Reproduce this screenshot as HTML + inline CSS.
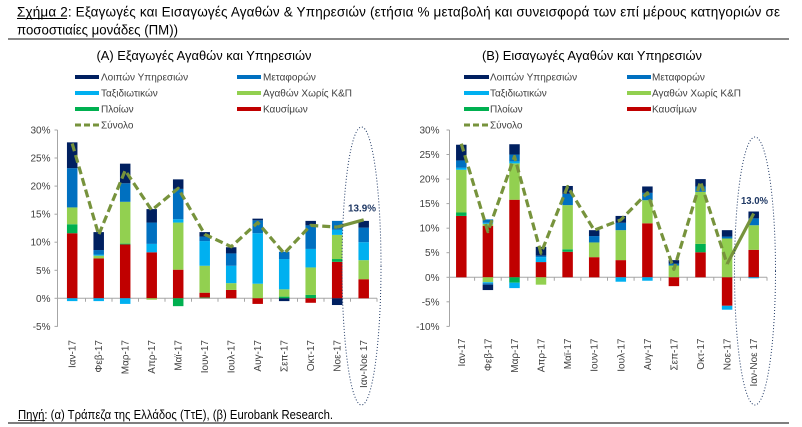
<!DOCTYPE html>
<html><head><meta charset="utf-8"><style>
html,body{margin:0;padding:0;background:#fff;}
svg{display:block;font-family:"Liberation Sans","Noto Sans CJK SC",sans-serif;}
</style></head><body>
<svg width="802" height="427" viewBox="0 0 802 427" xmlns="http://www.w3.org/2000/svg">
<!-- Title -->
<text x="17" y="16.5" font-size="13.5" fill="#000" textLength="763" lengthAdjust="spacing">Σχήμα 2: Εξαγωγές και Εισαγωγές Αγαθών &amp; Υπηρεσιών (ετήσια % μεταβολή και συνεισφορά των επί μέρους κατηγοριών σε</text>
<line x1="17" y1="18.5" x2="67" y2="18.5" stroke="#000" stroke-width="0.9"/>
<text x="17" y="34.5" font-size="13.5" fill="#000" textLength="161" lengthAdjust="spacingAndGlyphs">ποσοστιαίες μονάδες (ΠΜ))</text>
<line x1="8" y1="39" x2="789" y2="39" stroke="#404040" stroke-width="1.3"/>

<!-- Subtitles -->
<text x="204" y="60" font-size="13" text-anchor="middle" fill="#000" textLength="215" lengthAdjust="spacingAndGlyphs">(Α) Εξαγωγές Αγαθών και Υπηρεσιών</text>
<text x="592" y="60" font-size="13" text-anchor="middle" fill="#000" textLength="220" lengthAdjust="spacingAndGlyphs">(Β) Εισαγωγές Αγαθών και Υπηρεσιών</text>

<!-- Legend left -->
<g font-size="10" fill="#404040">
<rect x="75" y="75" width="24" height="4" fill="#002060"/><text x="101" y="80.5">Λοιπών Υπηρεσιών</text>
<rect x="237" y="75" width="24" height="4" fill="#0070c0"/><text x="263" y="80.5">Μεταφορών</text>
<rect x="75" y="91" width="24" height="4" fill="#00b0f0"/><text x="101" y="96.5">Ταξιδιωτικών</text>
<rect x="237" y="91" width="24" height="4" fill="#92d050"/><text x="263" y="96.5">Αγαθών Χωρίς Κ&amp;Π</text>
<rect x="75" y="107" width="24" height="4" fill="#00b050"/><text x="101" y="112.5">Πλοίων</text>
<rect x="237" y="107" width="24" height="4" fill="#c00000"/><text x="263" y="112.5">Καυσίμων</text>
<line x1="75" y1="125" x2="99" y2="125" stroke="#77933c" stroke-width="3" stroke-dasharray="6 3"/><text x="101" y="128.5">Σύνολο</text>
</g>
<!-- Legend right -->
<g font-size="10" fill="#404040">
<rect x="464" y="75" width="25" height="4" fill="#002060"/><text x="490" y="80.5">Λοιπών Υπηρεσιών</text>
<rect x="627" y="75" width="24" height="4" fill="#0070c0"/><text x="652" y="80.5">Μεταφορών</text>
<rect x="464" y="91" width="25" height="4" fill="#00b0f0"/><text x="490" y="96.5">Ταξιδιωτικών</text>
<rect x="627" y="91" width="24" height="4" fill="#92d050"/><text x="652" y="96.5">Αγαθών Χωρίς Κ&amp;Π</text>
<rect x="464" y="107" width="25" height="4" fill="#00b050"/><text x="490" y="112.5">Πλοίων</text>
<rect x="627" y="107" width="24" height="4" fill="#c00000"/><text x="652" y="112.5">Καυσίμων</text>
<line x1="464" y1="125" x2="489" y2="125" stroke="#77933c" stroke-width="3" stroke-dasharray="6 3"/><text x="490" y="128.5">Σύνολο</text>
</g>

<!-- LEFT CHART axes -->
<g stroke="#a6a6a6" stroke-width="1" fill="none">
<line x1="57.5" y1="130" x2="57.5" y2="326.7"/>
<line x1="54.5" y1="130" x2="57.5" y2="130"/>
<line x1="54.5" y1="158" x2="57.5" y2="158"/>
<line x1="54.5" y1="186.1" x2="57.5" y2="186.1"/>
<line x1="54.5" y1="214.2" x2="57.5" y2="214.2"/>
<line x1="54.5" y1="242.2" x2="57.5" y2="242.2"/>
<line x1="54.5" y1="270.3" x2="57.5" y2="270.3"/>
<line x1="54.5" y1="298.3" x2="57.5" y2="298.3"/>
<line x1="54.5" y1="326.4" x2="57.5" y2="326.4"/>
<line x1="57.5" y1="298.3" x2="377" y2="298.3"/>
<path d="M85.5 298.3v3.5M112 298.3v3.5M138.5 298.3v3.5M165 298.3v3.5M191.5 298.3v3.5M218 298.3v3.5M244.5 298.3v3.5M271 298.3v3.5M297.5 298.3v3.5M324 298.3v3.5M350.5 298.3v3.5M377 298.3v3.5"/>
</g>
<g font-size="10" fill="#404040" text-anchor="end">
<text x="50.5" y="133.5">30%</text>
<text x="50.5" y="161.5">25%</text>
<text x="50.5" y="189.6">20%</text>
<text x="50.5" y="217.7">15%</text>
<text x="50.5" y="245.7">10%</text>
<text x="50.5" y="273.8">5%</text>
<text x="50.5" y="301.8">0%</text>
<text x="50.5" y="329.9">-5%</text>
</g>

<!-- LEFT bars (value units) -->
<g transform="translate(0,298.3) scale(1,-5.61)">
<!-- 1 -->
<rect x="66.95" y="0" width="10.5" height="11.6" fill="#c00000"/>
<rect x="66.95" y="11.6" width="10.5" height="1.6" fill="#00b050"/>
<rect x="66.95" y="13.2" width="10.5" height="3.0" fill="#92d050"/>
<rect x="66.95" y="16.2" width="10.5" height="7.0" fill="#0070c0"/>
<rect x="66.95" y="23.2" width="10.5" height="4.6" fill="#002060"/>
<rect x="66.95" y="-0.5" width="10.5" height="0.5" fill="#00b0f0"/>
<!-- 2 -->
<rect x="93.45" y="0" width="10.5" height="7.1" fill="#c00000"/>
<rect x="93.45" y="7.1" width="10.5" height="0.5" fill="#92d050"/>
<rect x="93.45" y="7.6" width="10.5" height="0.2" fill="#00b0f0"/>
<rect x="93.45" y="7.8" width="10.5" height="0.8" fill="#0070c0"/>
<rect x="93.45" y="8.6" width="10.5" height="3.2" fill="#002060"/>
<rect x="93.45" y="-0.5" width="10.5" height="0.5" fill="#00b0f0"/>
<!-- 3 -->
<rect x="119.95" y="0" width="10.5" height="9.6" fill="#c00000"/>
<rect x="119.95" y="9.6" width="10.5" height="0.15" fill="#00b050"/>
<rect x="119.95" y="9.75" width="10.5" height="7.45" fill="#92d050"/>
<rect x="119.95" y="17.2" width="10.5" height="3.3" fill="#0070c0"/>
<rect x="119.95" y="20.5" width="10.5" height="3.5" fill="#002060"/>
<rect x="119.95" y="-1.0" width="10.5" height="1.0" fill="#00b0f0"/>
<!-- 4 -->
<rect x="146.45" y="0" width="10.5" height="8.2" fill="#c00000"/>
<rect x="146.45" y="8.2" width="10.5" height="1.5" fill="#00b0f0"/>
<rect x="146.45" y="9.7" width="10.5" height="3.8" fill="#0070c0"/>
<rect x="146.45" y="13.5" width="10.5" height="2.4" fill="#002060"/>
<rect x="146.45" y="-0.25" width="10.5" height="0.25" fill="#92d050"/>
<!-- 5 -->
<rect x="172.95" y="0" width="10.5" height="5.1" fill="#c00000"/>
<rect x="172.95" y="5.1" width="10.5" height="8.4" fill="#92d050"/>
<rect x="172.95" y="13.5" width="10.5" height="0.6" fill="#00b0f0"/>
<rect x="172.95" y="14.1" width="10.5" height="5.4" fill="#0070c0"/>
<rect x="172.95" y="19.5" width="10.5" height="1.7" fill="#002060"/>
<rect x="172.95" y="-1.4" width="10.5" height="1.4" fill="#00b050"/>
<!-- 6 -->
<rect x="199.45" y="0" width="10.5" height="0.2" fill="#4f6228"/>
<rect x="199.45" y="0.2" width="10.5" height="0.8" fill="#c00000"/>
<rect x="199.45" y="1.0" width="10.5" height="4.8" fill="#92d050"/>
<rect x="199.45" y="5.8" width="10.5" height="4.4" fill="#00b0f0"/>
<rect x="199.45" y="10.2" width="10.5" height="0.8" fill="#0070c0"/>
<rect x="199.45" y="11.0" width="10.5" height="0.8" fill="#002060"/>
<!-- 7 -->
<rect x="225.95" y="0" width="10.5" height="1.5" fill="#c00000"/>
<rect x="225.95" y="1.5" width="10.5" height="1.2" fill="#92d050"/>
<rect x="225.95" y="2.7" width="10.5" height="3.1" fill="#00b0f0"/>
<rect x="225.95" y="5.8" width="10.5" height="2.2" fill="#0070c0"/>
<rect x="225.95" y="8.0" width="10.5" height="1.1" fill="#002060"/>
<!-- 8 -->
<rect x="252.45" y="0" width="10.5" height="2.6" fill="#92d050"/>
<rect x="252.45" y="2.6" width="10.5" height="9.0" fill="#00b0f0"/>
<rect x="252.45" y="11.6" width="10.5" height="2.3" fill="#0070c0"/>
<rect x="252.45" y="13.9" width="10.5" height="0.3" fill="#002060"/>
<rect x="252.45" y="-1.0" width="10.5" height="1.0" fill="#c00000"/>
<!-- 9 -->
<rect x="278.95" y="0" width="10.5" height="0.3" fill="#00b050"/>
<rect x="278.95" y="0.3" width="10.5" height="1.3" fill="#92d050"/>
<rect x="278.95" y="1.6" width="10.5" height="5.4" fill="#00b0f0"/>
<rect x="278.95" y="7.0" width="10.5" height="1.3" fill="#0070c0"/>
<rect x="278.95" y="-0.5" width="10.5" height="0.5" fill="#002060"/>
<!-- 10 -->
<rect x="305.45" y="0" width="10.5" height="0.6" fill="#00b050"/>
<rect x="305.45" y="0.6" width="10.5" height="4.9" fill="#92d050"/>
<rect x="305.45" y="5.5" width="10.5" height="3.3" fill="#00b0f0"/>
<rect x="305.45" y="8.8" width="10.5" height="4.2" fill="#0070c0"/>
<rect x="305.45" y="13.0" width="10.5" height="0.8" fill="#002060"/>
<rect x="305.45" y="-0.8" width="10.5" height="0.8" fill="#c00000"/>
<!-- 11 -->
<rect x="331.95" y="0" width="10.5" height="6.5" fill="#c00000"/>
<rect x="331.95" y="6.5" width="10.5" height="0.5" fill="#00b050"/>
<rect x="331.95" y="7.0" width="10.5" height="4.3" fill="#92d050"/>
<rect x="331.95" y="11.3" width="10.5" height="0.9" fill="#00b0f0"/>
<rect x="331.95" y="12.2" width="10.5" height="1.6" fill="#0070c0"/>
<rect x="331.95" y="-1.2" width="10.5" height="1.2" fill="#002060"/>
<!-- 12 -->
<rect x="358.45" y="0" width="10.5" height="3.4" fill="#c00000"/>
<rect x="358.45" y="3.4" width="10.5" height="3.4" fill="#92d050"/>
<rect x="358.45" y="6.8" width="10.5" height="3.2" fill="#00b0f0"/>
<rect x="358.45" y="10.0" width="10.5" height="2.6" fill="#0070c0"/>
<rect x="358.45" y="12.6" width="10.5" height="1.2" fill="#002060"/>
</g>
<polyline fill="none" stroke="#77933c" stroke-width="3.2" stroke-dasharray="8 4" stroke-linejoin="round"
 points="72.2,143.5 98.7,234.9 125.2,170.4 151.7,210.2 178.2,188.3 204.7,234.3 231.2,246.7 257.7,222.6 284.2,253.4 310.7,225.4 337.2,227.1"/>
<line x1="337.2" y1="227.1" x2="363.7" y2="219.8" stroke="#77933c" stroke-width="3.2"/>
<ellipse cx="361.5" cy="266" rx="19.5" ry="139" fill="none" stroke="#1f3864" stroke-width="1" stroke-dasharray="1 2"/>
<text x="362" y="211.5" font-size="10.5" font-weight="bold" fill="#1f3864" text-anchor="middle" textLength="28" lengthAdjust="spacingAndGlyphs">13.9%</text>

<!-- left x labels -->
<g font-size="10" fill="#404040" text-anchor="end">
<text transform="translate(75.7,340) rotate(-90)">Ιαν-17</text>
<text transform="translate(102.2,340) rotate(-90)">Φεβ-17</text>
<text transform="translate(128.7,340) rotate(-90)">Μαρ-17</text>
<text transform="translate(155.2,340) rotate(-90)">Απρ-17</text>
<text transform="translate(181.7,340) rotate(-90)">Μαϊ-17</text>
<text transform="translate(208.2,340) rotate(-90)">Ιουν-17</text>
<text transform="translate(234.7,340) rotate(-90)">Ιουλ-17</text>
<text transform="translate(261.2,340) rotate(-90)">Αυγ-17</text>
<text transform="translate(287.7,340) rotate(-90)">Σεπ-17</text>
<text transform="translate(314.2,340) rotate(-90)">Οκτ-17</text>
<text transform="translate(340.7,340) rotate(-90)">Νοε-17</text>
<text transform="translate(367.2,340) rotate(-90)">Ιαν-Νοε 17</text>
</g>

<!-- RIGHT CHART axes -->
<g stroke="#a6a6a6" stroke-width="1" fill="none">
<line x1="449.5" y1="130" x2="449.5" y2="326.4"/>
<line x1="446.5" y1="130" x2="449.5" y2="130"/>
<line x1="446.5" y1="154.5" x2="449.5" y2="154.5"/>
<line x1="446.5" y1="179.1" x2="449.5" y2="179.1"/>
<line x1="446.5" y1="203.6" x2="449.5" y2="203.6"/>
<line x1="446.5" y1="228.2" x2="449.5" y2="228.2"/>
<line x1="446.5" y1="252.7" x2="449.5" y2="252.7"/>
<line x1="446.5" y1="277.3" x2="449.5" y2="277.3"/>
<line x1="446.5" y1="301.8" x2="449.5" y2="301.8"/>
<line x1="446.5" y1="326.4" x2="449.5" y2="326.4"/>
<line x1="449.5" y1="277.3" x2="767" y2="277.3"/>
<path d="M474.6 277.3v3.5M501.2 277.3v3.5M527.8 277.3v3.5M554.3 277.3v3.5M580.9 277.3v3.5M607.5 277.3v3.5M634.1 277.3v3.5M660.7 277.3v3.5M687.2 277.3v3.5M713.8 277.3v3.5M740.4 277.3v3.5M767 277.3v3.5"/>
</g>
<g font-size="10" fill="#404040" text-anchor="end">
<text x="439.5" y="133.5">30%</text>
<text x="439.5" y="158">25%</text>
<text x="439.5" y="182.6">20%</text>
<text x="439.5" y="207.1">15%</text>
<text x="439.5" y="231.7">10%</text>
<text x="439.5" y="256.2">5%</text>
<text x="439.5" y="280.8">0%</text>
<text x="439.5" y="305.3">-5%</text>
<text x="439.5" y="329.9">-10%</text>
</g>

<g transform="translate(0,277.3) scale(1,-4.91)">
<!-- 1 -->
<rect x="456.05" y="0" width="10.5" height="12.5" fill="#c00000"/>
<rect x="456.05" y="12.5" width="10.5" height="0.7" fill="#00b050"/>
<rect x="456.05" y="13.2" width="10.5" height="8.7" fill="#92d050"/>
<rect x="456.05" y="21.9" width="10.5" height="0.4" fill="#00b0f0"/>
<rect x="456.05" y="22.3" width="10.5" height="1.5" fill="#0070c0"/>
<rect x="456.05" y="23.8" width="10.5" height="3.2" fill="#002060"/>
<!-- 2 -->
<rect x="482.65" y="0" width="10.5" height="10.5" fill="#c00000"/>
<rect x="482.65" y="10.5" width="10.5" height="0.4" fill="#92d050"/>
<rect x="482.65" y="10.9" width="10.5" height="0.2" fill="#00b0f0"/>
<rect x="482.65" y="11.1" width="10.5" height="0.7" fill="#0070c0"/>
<rect x="482.65" y="-1.0" width="10.5" height="1.0" fill="#92d050"/>
<rect x="482.65" y="-1.2" width="10.5" height="0.2" fill="#00b0f0"/>
<rect x="482.65" y="-1.5" width="10.5" height="0.3" fill="#0070c0"/>
<rect x="482.65" y="-2.6" width="10.5" height="1.1" fill="#002060"/>
<!-- 3 -->
<rect x="509.25" y="0" width="10.5" height="15.8" fill="#c00000"/>
<rect x="509.25" y="15.8" width="10.5" height="7.4" fill="#92d050"/>
<rect x="509.25" y="23.2" width="10.5" height="0.4" fill="#00b0f0"/>
<rect x="509.25" y="23.6" width="10.5" height="1.4" fill="#0070c0"/>
<rect x="509.25" y="25.0" width="10.5" height="2.1" fill="#002060"/>
<rect x="509.25" y="-1.1" width="10.5" height="1.1" fill="#00b050"/>
<rect x="509.25" y="-2.2" width="10.5" height="1.1" fill="#00b0f0"/>
<!-- 4 -->
<rect x="535.75" y="0" width="10.5" height="3.1" fill="#c00000"/>
<rect x="535.75" y="3.1" width="10.5" height="1.0" fill="#00b0f0"/>
<rect x="535.75" y="4.1" width="10.5" height="0.3" fill="#0070c0"/>
<rect x="535.75" y="4.4" width="10.5" height="1.8" fill="#002060"/>
<rect x="535.75" y="-1.5" width="10.5" height="1.5" fill="#92d050"/>
<!-- 5 -->
<rect x="562.35" y="0" width="10.5" height="5.2" fill="#c00000"/>
<rect x="562.35" y="5.2" width="10.5" height="0.5" fill="#00b050"/>
<rect x="562.35" y="5.7" width="10.5" height="9.0" fill="#92d050"/>
<rect x="562.35" y="14.7" width="10.5" height="2.3" fill="#0070c0"/>
<rect x="562.35" y="17.0" width="10.5" height="1.6" fill="#002060"/>
<!-- 6 -->
<rect x="588.95" y="0" width="10.5" height="4.1" fill="#c00000"/>
<rect x="588.95" y="4.1" width="10.5" height="3.0" fill="#92d050"/>
<rect x="588.95" y="7.1" width="10.5" height="1.3" fill="#0070c0"/>
<rect x="588.95" y="8.4" width="10.5" height="1.2" fill="#002060"/>
<!-- 7 -->
<rect x="615.55" y="0" width="10.5" height="3.5" fill="#c00000"/>
<rect x="615.55" y="3.5" width="10.5" height="6.1" fill="#92d050"/>
<rect x="615.55" y="9.6" width="10.5" height="1.5" fill="#0070c0"/>
<rect x="615.55" y="11.1" width="10.5" height="1.4" fill="#002060"/>
<rect x="615.55" y="-0.9" width="10.5" height="0.9" fill="#00b0f0"/>
<!-- 8 -->
<rect x="642.15" y="0" width="10.5" height="11.0" fill="#c00000"/>
<rect x="642.15" y="11.0" width="10.5" height="4.7" fill="#92d050"/>
<rect x="642.15" y="15.7" width="10.5" height="1.5" fill="#0070c0"/>
<rect x="642.15" y="17.2" width="10.5" height="1.3" fill="#002060"/>
<rect x="642.15" y="-0.7" width="10.5" height="0.7" fill="#00b0f0"/>
<!-- 9 -->
<rect x="668.65" y="0" width="10.5" height="2.4" fill="#92d050"/>
<rect x="668.65" y="2.4" width="10.5" height="0.4" fill="#0070c0"/>
<rect x="668.65" y="2.8" width="10.5" height="0.7" fill="#002060"/>
<rect x="668.65" y="-1.8" width="10.5" height="1.8" fill="#c00000"/>
<!-- 10 -->
<rect x="695.25" y="0" width="10.5" height="5.1" fill="#c00000"/>
<rect x="695.25" y="5.1" width="10.5" height="1.7" fill="#00b050"/>
<rect x="695.25" y="6.8" width="10.5" height="10.6" fill="#92d050"/>
<rect x="695.25" y="17.4" width="10.5" height="1.1" fill="#0070c0"/>
<rect x="695.25" y="18.5" width="10.5" height="1.5" fill="#002060"/>
<!-- 11 -->
<rect x="721.85" y="0" width="10.5" height="7.9" fill="#92d050"/>
<rect x="721.85" y="7.9" width="10.5" height="0.4" fill="#0070c0"/>
<rect x="721.85" y="8.3" width="10.5" height="1.3" fill="#002060"/>
<rect x="721.85" y="-5.8" width="10.5" height="5.8" fill="#c00000"/>
<rect x="721.85" y="-6.6" width="10.5" height="0.8" fill="#00b0f0"/>
<!-- 12 -->
<rect x="748.45" y="0" width="10.5" height="5.6" fill="#c00000"/>
<rect x="748.45" y="5.6" width="10.5" height="5.0" fill="#92d050"/>
<rect x="748.45" y="10.6" width="10.5" height="1.4" fill="#0070c0"/>
<rect x="748.45" y="12.0" width="10.5" height="1.4" fill="#002060"/>
<rect x="748.45" y="-0.2" width="10.5" height="0.2" fill="#00b0f0"/>
</g>
<polyline fill="none" stroke="#77933c" stroke-width="3.2" stroke-dasharray="8 4" stroke-linejoin="round"
 points="461.3,143.7 487.9,231.6 514.5,156.5 541.0,253.2 567.6,186.5 594.2,230.2 620.8,219.9 647.4,192.8 673.9,269.4 700.5,181.6 727.1,264.0"/>
<line x1="727.1" y1="264.0" x2="753.7" y2="213.5" stroke="#77933c" stroke-width="3.2"/>
<ellipse cx="755" cy="271" rx="20.5" ry="134" fill="none" stroke="#1f3864" stroke-width="1" stroke-dasharray="1 2"/>
<text x="754.5" y="204" font-size="10.5" font-weight="bold" fill="#1f3864" text-anchor="middle" textLength="27" lengthAdjust="spacingAndGlyphs">13.0%</text>

<!-- right x labels -->
<g font-size="10" fill="#404040" text-anchor="end">
<text transform="translate(464.8,338.5) rotate(-90)">Ιαν-17</text>
<text transform="translate(491.4,338.5) rotate(-90)">Φεβ-17</text>
<text transform="translate(518.0,338.5) rotate(-90)">Μαρ-17</text>
<text transform="translate(544.5,338.5) rotate(-90)">Απρ-17</text>
<text transform="translate(571.1,338.5) rotate(-90)">Μαϊ-17</text>
<text transform="translate(597.7,338.5) rotate(-90)">Ιουν-17</text>
<text transform="translate(624.3,338.5) rotate(-90)">Ιουλ-17</text>
<text transform="translate(650.9,338.5) rotate(-90)">Αυγ-17</text>
<text transform="translate(677.4,338.5) rotate(-90)">Σεπ-17</text>
<text transform="translate(704.0,338.5) rotate(-90)">Οκτ-17</text>
<text transform="translate(730.6,338.5) rotate(-90)">Νοε-17</text>
<text transform="translate(757.2,338.5) rotate(-90)">Ιαν-Νοε 17</text>
</g>

<!-- Footer -->
<text x="18" y="419" font-size="12.5" fill="#000" textLength="315" lengthAdjust="spacingAndGlyphs">Πηγή: (α) Τράπεζα της Ελλάδος (ΤτΕ), (β) Eurobank Research.</text>
<line x1="18" y1="420.5" x2="45" y2="420.5" stroke="#000" stroke-width="0.8"/>
<line x1="8" y1="423" x2="789" y2="423" stroke="#7f7f7f" stroke-width="2"/>
</svg>
</body></html>
